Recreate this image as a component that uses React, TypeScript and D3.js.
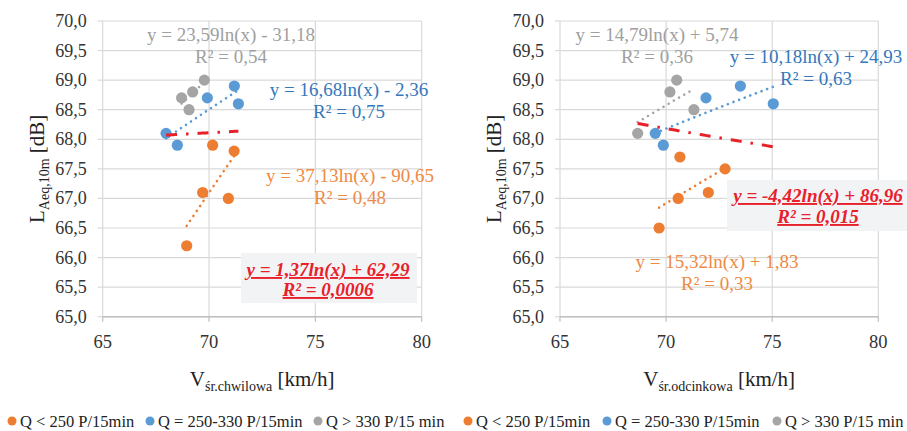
import React from "react";
import * as d3 from "d3";

// ---- data ----
const seriesNames = ["Q < 250 P/15min", "Q = 250-330 P/15min", "Q > 330 P/15 min"];
const seriesColors = ["#ED7D31", "#5B9BD5", "#A5A5A5"];
const labelColors = ["#EE8A45", "#3478BC", "#A0A0A0"];

// left panel: instantaneous speed
const leftLowX = [68.95, 69.7, 70.91, 70.17, 71.18];
const leftLowY = [66.2, 67.1, 67.0, 67.9, 67.8];
const leftMidX = [67.98, 68.51, 69.92, 71.19, 71.38];
const leftMidY = [68.1, 67.9, 68.7, 68.9, 68.6];
const leftHighX = [68.71, 69.23, 69.78, 69.06];
const leftHighY = [68.7, 68.8, 69.0, 68.5];

// right panel: section speed
const rightLowX = [69.67, 70.57, 70.65, 71.99, 72.78];
const rightLowY = [66.5, 67.0, 67.7, 67.1, 67.5];
const rightMidX = [69.49, 69.87, 71.88, 73.5, 75.05];
const rightMidY = [68.1, 67.9, 68.7, 68.9, 68.6];
const rightHighX = [68.66, 70.18, 70.5, 71.31];
const rightHighY = [68.1, 68.8, 69.0, 68.5];

// logarithmic trend coefficients y = a ln(x) + b : [low, mid, high, all]
const leftTrendA = [37.13, 16.68, 23.59, 1.37];
const leftTrendB = [-90.65, -2.36, -31.18, 62.29];
const rightTrendA = [15.32, 10.18, 14.79, -4.42];
const rightTrendB = [1.83, 24.93, 5.74, 86.96];

const leftEquations = ["y = 37,13ln(x) - 90,65", "y = 16,68ln(x) - 2,36", "y = 23,59ln(x) - 31,18", "y = 1,37ln(x) + 62,29"];
const leftR2 = ["R² = 0,48", "R² = 0,75", "R² = 0,54", "R² = 0,0006"];
const rightEquations = ["y = 15,32ln(x) + 1,83", "y = 10,18ln(x) + 24,93", "y = 14,79ln(x) + 5,74", "y = -4,42ln(x) + 86,96"];
const rightR2 = ["R² = 0,33", "R² = 0,63", "R² = 0,36", "R² = 0,015"];

const xTicks = [65, 70, 75, 80];
const yTicks = [65, 65.5, 66, 66.5, 67, 67.5, 68, 68.5, 69, 69.5, 70];

const FONT = "'Liberation Serif', 'Times New Roman', serif";
const fmtY = (v: number) => v.toFixed(1).replace(".", ",");

type LabelPos = { x: number; y: number };

type PanelProps = {
  x0: number;
  x1: number;
  xs: number[][];
  ys: number[][];
  trendA: number[];
  trendB: number[];
  equations: string[];
  r2: string[];
  labelPos: LabelPos[]; // [low, mid, high]
  redBox: { x: number; y: number; w: number; h: number; cx: number; y1: number; y2: number };
  xSub: string;
  yTitleX: number;
};

function Panel(p: PanelProps) {
  const top = 21;
  const bottom = 316.7;
  const x = d3.scaleLinear().domain([65, 80]).range([p.x0, p.x1]);
  const y = d3.scaleLinear().domain([65, 70]).range([bottom, top]);

  const trendPath = (a: number, b: number, lo: number, hi: number) => {
    const pts = d3.range(0, 41).map((i) => lo + ((hi - lo) * i) / 40);
    return d3
      .line<number>()
      .x((v) => x(v))
      .y((v) => y(a * Math.log(v) + b))(pts) as string;
  };

  const allX = p.xs.flat();
  const cx = (p.x0 + p.x1) / 2;
  const cy = (top + bottom) / 2;

  return (
    <g fontFamily={FONT}>
      {/* grid */}
      {yTicks.map((t) => (
        <line key={"gy" + t} x1={p.x0} x2={p.x1} y1={y(t)} y2={y(t)} stroke="#D9D9D9" strokeWidth={1.2} />
      ))}
      {xTicks.map((t) => (
        <line key={"gx" + t} x1={x(t)} x2={x(t)} y1={top} y2={bottom} stroke="#D9D9D9" strokeWidth={1.2} />
      ))}
      {/* axes */}
      <line x1={p.x0} x2={p.x1} y1={bottom} y2={bottom} stroke="#BFBFBF" strokeWidth={1.5} />
      {yTicks.map((t) => (
        <line key={"ty" + t} x1={p.x0 - 5} x2={p.x0} y1={y(t)} y2={y(t)} stroke="#D9D9D9" strokeWidth={1.2} />
      ))}
      {xTicks.map((t) => (
        <line key={"tx" + t} x1={x(t)} x2={x(t)} y1={bottom} y2={bottom + 5} stroke="#BFBFBF" strokeWidth={1.2} />
      ))}
      {yTicks.map((t) => (
        <text key={"ly" + t} x={p.x0 - 16} y={y(t) + 6} textAnchor="end" fontSize={18} fill="#333">
          {fmtY(t)}
        </text>
      ))}
      {xTicks.map((t) => (
        <text key={"lx" + t} x={x(t)} y={348} textAnchor="middle" fontSize={18.5} fill="#333">
          {t}
        </text>
      ))}
      {/* axis titles */}
      <text x={cx} y={386} textAnchor="middle" fontSize={21} fill="#222">
        V<tspan fontSize={14} dy={5}>{p.xSub}</tspan>
        <tspan dy={-5}> [km/h]</tspan>
      </text>
      <text transform={`translate(${p.yTitleX},${cy}) rotate(-90)`} textAnchor="middle" fontSize={21} fill="#222">
        L<tspan fontSize={14} dy={5}>Aeq,10m</tspan>
        <tspan dy={-5}> [dB]</tspan>
      </text>

      {/* points */}
      {p.xs.map((xsArr, si) =>
        xsArr.map((v, i) => (
          <circle key={`p${si}-${i}`} cx={x(v)} cy={y(p.ys[si][i])} r={5.6} fill={seriesColors[si]} />
        ))
      )}

      {/* trend lines */}
      {p.xs.map((xsArr, si) => (
        <path
          key={"tr" + si}
          d={trendPath(p.trendA[si], p.trendB[si], d3.min(xsArr)!, d3.max(xsArr)!)}
          fill="none"
          stroke={seriesColors[si]}
          strokeWidth={2.6}
          strokeLinecap="round"
          strokeDasharray="0.01 6"
        />
      ))}
      <path
        d={trendPath(p.trendA[3], p.trendB[3], d3.min(allX)!, d3.max(allX)!)}
        fill="none"
        stroke="#E8202A"
        strokeWidth={3}
        strokeDasharray="11 9 2.5 9"
      />

      {/* trend equations */}
      {p.labelPos.map((lp, si) => (
        <text key={"eq" + si} x={lp.x} y={lp.y} textAnchor="middle" fontSize={19} fill={labelColors[si]}>
          <tspan x={lp.x}>{p.equations[si]}</tspan>
          <tspan x={lp.x} dy={21.5}>
            {p.r2[si]}
          </tspan>
        </text>
      ))}

      {/* overall trend equation box */}
      <rect x={p.redBox.x} y={p.redBox.y} width={p.redBox.w} height={p.redBox.h} fill="#F2F3F5" />
      <text
        textAnchor="middle"
        fontSize={19}
        fontWeight="bold"
        fontStyle="italic"
        fill="#E8202A"
        style={{ textDecoration: "underline" }}
      >
        <tspan x={p.redBox.cx} y={p.redBox.y1}>
          {p.equations[3]}
        </tspan>
        <tspan x={p.redBox.cx} y={p.redBox.y2}>
          {p.r2[3]}
        </tspan>
      </text>
    </g>
  );
}

function Legend({ x0, offsets }: { x0: number; offsets: number[] }) {
  return (
    <g fontFamily={FONT} fontSize={16.5} fill="#222">
      {seriesNames.map((n, i) => (
        <g key={n}>
          <circle cx={x0 + offsets[i]} cy={421} r={4.5} fill={seriesColors[i]} />
          <text x={x0 + offsets[i] + 8} y={427}>
            {n}
          </text>
        </g>
      ))}
    </g>
  );
}

export default function App() {
  return (
    <svg
      width={907}
      height={431}
      style={{ position: "absolute", left: 0, top: 0, background: "#fff" }}
    >
      <Panel
        x0={102.7}
        x1={421.7}
        xs={[leftLowX, leftMidX, leftHighX]}
        ys={[leftLowY, leftMidY, leftHighY]}
        trendA={leftTrendA}
        trendB={leftTrendB}
        equations={leftEquations}
        r2={leftR2}
        labelPos={[
          { x: 350, y: 182 },
          { x: 349, y: 96 },
          { x: 231, y: 41 },
        ]}
        redBox={{ x: 241, y: 253, w: 176, h: 50, cx: 328, y1: 276, y2: 296 }}
        xSub="śr.chwilowa"
        yTitleX={44}
      />
      <Panel
        x0={560}
        x1={878.3}
        xs={[rightLowX, rightMidX, rightHighX]}
        ys={[rightLowY, rightMidY, rightHighY]}
        trendA={rightTrendA}
        trendB={rightTrendB}
        equations={rightEquations}
        r2={rightR2}
        labelPos={[
          { x: 717, y: 268 },
          { x: 816, y: 63 },
          { x: 657, y: 41 },
        ]}
        redBox={{ x: 727, y: 180, w: 180, h: 51, cx: 818, y1: 202, y2: 223 }}
        xSub="śr.odcinkowa"
        yTitleX={501}
      />
      <Legend x0={0} offsets={[12, 150, 318]} />
      <Legend x0={0} offsets={[468, 607, 777]} />
    </svg>
  );
}
